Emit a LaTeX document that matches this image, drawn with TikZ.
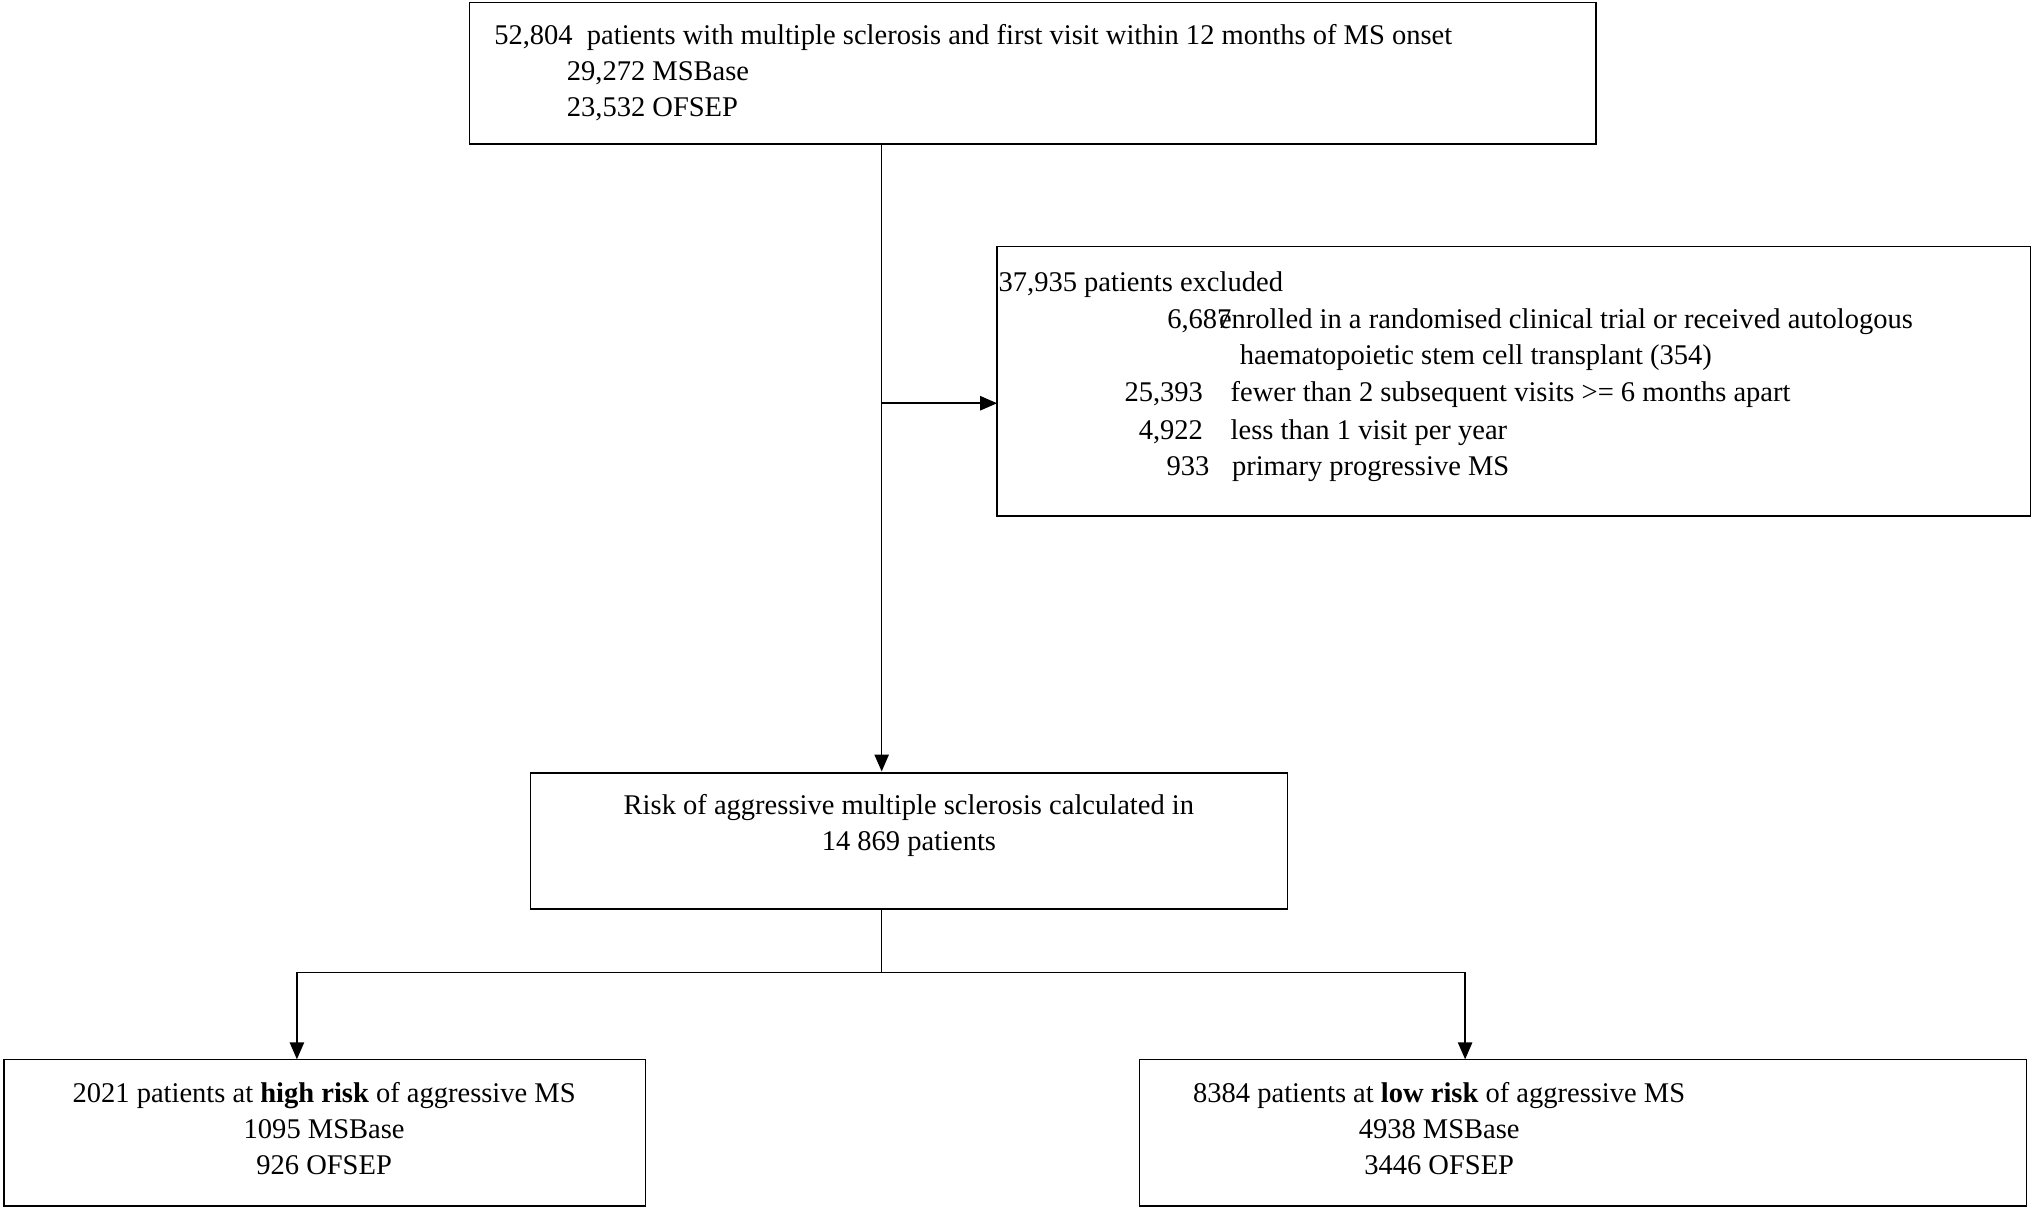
\documentclass[tikz,border=0pt]{standalone}
\usepackage{fontspec}
\setmainfont{Liberation Serif}
\usetikzlibrary{arrows.meta}
\begin{document}
\fontsize{22}{28}\selectfont
\begin{tikzpicture}[x=1pt,y=-1pt,
  box/.style={draw,line width=1.2pt},
  t/.style={inner sep=0,anchor=base west},
  c/.style={inner sep=0,anchor=base},
  arr/.style={line width=1.2pt,-{Triangle[length=13pt,width=11pt]}},
  ln/.style={line width=1.2pt}]
\useasboundingbox (0,0) rectangle (1568,932);
\draw[box] (362,2) rectangle (1231,111);
\node[t] (a1) at (381,34) {52,804\ \ patients with multiple sclerosis and first visit within 12 months of MS onset};
\node[t] (a2) at (437,62) {29,272 MSBase};
\node[t] (a3) at (437,90) {23,532 OFSEP};
\draw[box] (769,190) rectangle (1566,398);
\node[t] (e0) at (770,225) {37,935 patients excluded};
\node[t,anchor=base east] (e1) at (950,253) {6,687};
\node[t] (e1t) at (940,253) {enrolled in a randomised clinical trial or received autologous};
\node[t] (e1u) at (956,281) {haematopoietic stem cell transplant (354)};
\node[t,anchor=base east] (e2) at (928,310) {25,393};
\node[t] (e2t) at (949,310) {fewer than 2 subsequent visits >= 6 months apart};
\node[t,anchor=base east] (e3) at (928,339) {4,922};
\node[t] (e3t) at (949,339) {less than 1 visit per year};
\node[t,anchor=base east] (e4) at (933,367) {933};
\node[t] (e4t) at (950,367) {primary progressive MS};
\coordinate (top) at (680,111);
\coordinate (br) at (680,311);
\coordinate (exl) at (769,311);
\draw[box] (409,596) rectangle (993,701);
\node[c] (m1) at (701,628) {Risk of aggressive multiple sclerosis calculated in};
\node[c] (m2) at (701,656) {14 869 patients};
\draw[ln] (top) -- (br);
\draw[arr] (top) -- (680,595);
\draw[arr] (br) -- (exl);
\coordinate (mb) at (680,701);
\coordinate (sp) at (680,750);
\coordinate (sl) at (229,750);
\coordinate (sr) at (1130,750);
\draw[ln] (mb) -- (sp) (sl) -- (sr);
\draw[arr] (sl) -- (229,817);
\draw[arr] (sr) -- (1130,817);
\draw[box] (3,817) rectangle (498,930);
\node[c] (l1) at (250,850) {2021 patients at \textbf{high risk} of aggressive MS};
\node[c] (l2) at (250,878) {1095 MSBase};
\node[c] (l3) at (250,906) {926 OFSEP};
\draw[box] (879,817) rectangle (1563,930);
\node[c] (r1) at (1110,850) {8384 patients at \textbf{low risk} of aggressive MS};
\node[c] (r2) at (1110,878) {4938 MSBase};
\node[c] (r3) at (1110,906) {3446 OFSEP};
\end{tikzpicture}
\end{document}
